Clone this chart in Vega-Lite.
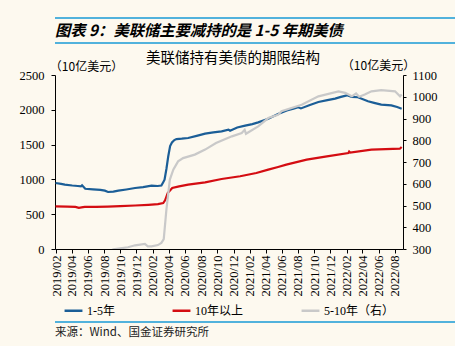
{
  "$schema": "https://vega.github.io/schema/vega-lite/v6.json",
  "background": "#fdf9ef",
  "padding": {"left": 19, "top": 17, "right": 5, "bottom": 5},
  "spacing": 4,
  "config": {
    "view": {"stroke": null},
    "axis": {"grid": false, "domainColor": "#000", "tickColor": "#000", "labelColor": "#000", "titleColor": "#000"}
  },
  "resolve": {"scale": {"color": "independent"}},
  "vconcat": [
    {
      "spacing": 6,
      "resolve": {"scale": {"color": "independent"}},
      "vconcat": [
        {
          "width": 426,
          "height": 25,
          "view": {"stroke": "#1a9ad6", "strokeWidth": 1.5, "strokeDash": [426, 25, 426, 25]},
          "title": {"text": "图表 9：美联储主要减持的是 1-5 年期美债", "orient": "top", "anchor": "start", "offset": -21, "font": "Noto Sans CJK SC", "fontSize": 15.3, "fontWeight": "bold", "fontStyle": "italic", "color": "#000"},
          "data": {"values": []},
          "mark": "point",
          "encoding": {}
        },
        {
          "width": 348,
          "height": 174,
          "title": {"text": "美联储持有美债的期限结构", "anchor": "middle", "offset": -7, "dx": 4, "font": "Noto Sans CJK SC", "fontSize": 14.5, "fontWeight": "normal", "color": "#000"},
          "data": {"values": [
            {"date": "2019-01-30", "s": "1-5年", "v": 948},
            {"date": "2019-02-20", "s": "1-5年", "v": 935},
            {"date": "2019-03-06", "s": "1-5年", "v": 925},
            {"date": "2019-04-03", "s": "1-5年", "v": 912},
            {"date": "2019-04-24", "s": "1-5年", "v": 905},
            {"date": "2019-05-06", "s": "1-5年", "v": 900},
            {"date": "2019-05-10", "s": "1-5年", "v": 915},
            {"date": "2019-05-16", "s": "1-5年", "v": 890},
            {"date": "2019-05-22", "s": "1-5年", "v": 865},
            {"date": "2019-06-20", "s": "1-5年", "v": 858},
            {"date": "2019-07-18", "s": "1-5年", "v": 850},
            {"date": "2019-08-04", "s": "1-5年", "v": 838},
            {"date": "2019-08-16", "s": "1-5年", "v": 819},
            {"date": "2019-09-05", "s": "1-5年", "v": 825},
            {"date": "2019-09-24", "s": "1-5年", "v": 838},
            {"date": "2019-10-24", "s": "1-5年", "v": 855},
            {"date": "2019-11-26", "s": "1-5年", "v": 876},
            {"date": "2019-12-26", "s": "1-5年", "v": 890},
            {"date": "2020-01-27", "s": "1-5年", "v": 910},
            {"date": "2020-02-19", "s": "1-5年", "v": 905},
            {"date": "2020-03-04", "s": "1-5年", "v": 912},
            {"date": "2020-03-11", "s": "1-5年", "v": 960},
            {"date": "2020-03-16", "s": "1-5年", "v": 996},
            {"date": "2020-03-23", "s": "1-5年", "v": 1150},
            {"date": "2020-03-30", "s": "1-5年", "v": 1332},
            {"date": "2020-04-06", "s": "1-5年", "v": 1480},
            {"date": "2020-04-13", "s": "1-5年", "v": 1530},
            {"date": "2020-04-22", "s": "1-5年", "v": 1565},
            {"date": "2020-04-30", "s": "1-5年", "v": 1580},
            {"date": "2020-05-20", "s": "1-5年", "v": 1585},
            {"date": "2020-06-13", "s": "1-5年", "v": 1595},
            {"date": "2020-07-15", "s": "1-5年", "v": 1625},
            {"date": "2020-08-16", "s": "1-5年", "v": 1657},
            {"date": "2020-09-16", "s": "1-5年", "v": 1675},
            {"date": "2020-10-17", "s": "1-5年", "v": 1691},
            {"date": "2020-11-12", "s": "1-5年", "v": 1715},
            {"date": "2020-11-18", "s": "1-5年", "v": 1700},
            {"date": "2020-12-15", "s": "1-5年", "v": 1745},
            {"date": "2021-01-14", "s": "1-5年", "v": 1772},
            {"date": "2021-02-10", "s": "1-5年", "v": 1795},
            {"date": "2021-03-04", "s": "1-5年", "v": 1820},
            {"date": "2021-04-11", "s": "1-5年", "v": 1870},
            {"date": "2021-05-18", "s": "1-5年", "v": 1940},
            {"date": "2021-06-20", "s": "1-5年", "v": 1990},
            {"date": "2021-07-15", "s": "1-5年", "v": 2015},
            {"date": "2021-08-02", "s": "1-5年", "v": 2036},
            {"date": "2021-08-12", "s": "1-5年", "v": 2020},
            {"date": "2021-09-15", "s": "1-5年", "v": 2070},
            {"date": "2021-10-17", "s": "1-5年", "v": 2112},
            {"date": "2021-11-20", "s": "1-5年", "v": 2140},
            {"date": "2021-12-19", "s": "1-5年", "v": 2160},
            {"date": "2022-01-10", "s": "1-5年", "v": 2185},
            {"date": "2022-02-01", "s": "1-5年", "v": 2208},
            {"date": "2022-02-20", "s": "1-5年", "v": 2185},
            {"date": "2022-03-15", "s": "1-5年", "v": 2180},
            {"date": "2022-04-22", "s": "1-5年", "v": 2122},
            {"date": "2022-05-15", "s": "1-5年", "v": 2100},
            {"date": "2022-06-11", "s": "1-5年", "v": 2074},
            {"date": "2022-07-19", "s": "1-5年", "v": 2064},
            {"date": "2022-08-10", "s": "1-5年", "v": 2040},
            {"date": "2022-08-27", "s": "1-5年", "v": 2016},
            {"date": "2019-01-30", "s": "10年以上", "v": 613},
            {"date": "2019-03-15", "s": "10年以上", "v": 610},
            {"date": "2019-04-15", "s": "10年以上", "v": 606},
            {"date": "2019-04-28", "s": "10年以上", "v": 592},
            {"date": "2019-05-08", "s": "10年以上", "v": 598},
            {"date": "2019-05-20", "s": "10年以上", "v": 604},
            {"date": "2019-07-01", "s": "10年以上", "v": 605},
            {"date": "2019-08-15", "s": "10年以上", "v": 608},
            {"date": "2019-10-01", "s": "10年以上", "v": 615},
            {"date": "2019-11-26", "s": "10年以上", "v": 625},
            {"date": "2020-01-15", "s": "10年以上", "v": 635},
            {"date": "2020-02-20", "s": "10年以上", "v": 645},
            {"date": "2020-03-11", "s": "10年以上", "v": 660},
            {"date": "2020-03-18", "s": "10年以上", "v": 700},
            {"date": "2020-03-28", "s": "10年以上", "v": 805},
            {"date": "2020-04-14", "s": "10年以上", "v": 876},
            {"date": "2020-05-10", "s": "10年以上", "v": 900},
            {"date": "2020-06-13", "s": "10年以上", "v": 924},
            {"date": "2020-08-16", "s": "10年以上", "v": 958},
            {"date": "2020-10-17", "s": "10年以上", "v": 1006},
            {"date": "2020-12-26", "s": "10年以上", "v": 1045},
            {"date": "2021-02-25", "s": "10年以上", "v": 1092},
            {"date": "2021-04-11", "s": "10年以上", "v": 1140},
            {"date": "2021-05-18", "s": "10年以上", "v": 1178},
            {"date": "2021-06-18", "s": "10年以上", "v": 1212},
            {"date": "2021-09-03", "s": "10年以上", "v": 1283},
            {"date": "2021-11-18", "s": "10年以上", "v": 1332},
            {"date": "2022-02-07", "s": "10年以上", "v": 1379},
            {"date": "2022-02-10", "s": "10年以上", "v": 1400},
            {"date": "2022-02-14", "s": "10年以上", "v": 1385},
            {"date": "2022-05-05", "s": "10年以上", "v": 1427},
            {"date": "2022-08-20", "s": "10年以上", "v": 1441},
            {"date": "2022-08-27", "s": "10年以上", "v": 1466},
            {"date": "2019-08-20", "s": "5-10年（右）", "v": 290},
            {"date": "2019-09-05", "s": "5-10年（右）", "v": 298},
            {"date": "2019-10-01", "s": "5-10年（右）", "v": 303},
            {"date": "2019-10-30", "s": "5-10年（右）", "v": 308},
            {"date": "2019-11-26", "s": "5-10年（右）", "v": 317},
            {"date": "2020-01-02", "s": "5-10年（右）", "v": 323},
            {"date": "2020-01-13", "s": "5-10年（右）", "v": 312},
            {"date": "2020-01-27", "s": "5-10年（右）", "v": 312},
            {"date": "2020-02-20", "s": "5-10年（右）", "v": 318},
            {"date": "2020-03-04", "s": "5-10年（右）", "v": 328},
            {"date": "2020-03-13", "s": "5-10年（右）", "v": 345},
            {"date": "2020-03-23", "s": "5-10年（右）", "v": 481},
            {"date": "2020-04-05", "s": "5-10年（右）", "v": 619},
            {"date": "2020-04-18", "s": "5-10年（右）", "v": 665},
            {"date": "2020-05-06", "s": "5-10年（右）", "v": 703},
            {"date": "2020-05-25", "s": "5-10年（右）", "v": 718},
            {"date": "2020-07-08", "s": "5-10年（右）", "v": 734},
            {"date": "2020-08-16", "s": "5-10年（右）", "v": 757},
            {"date": "2020-09-26", "s": "5-10年（右）", "v": 787},
            {"date": "2020-11-25", "s": "5-10年（右）", "v": 818},
            {"date": "2021-01-01", "s": "5-10年（右）", "v": 833},
            {"date": "2021-01-12", "s": "5-10年（右）", "v": 848},
            {"date": "2021-01-17", "s": "5-10年（右）", "v": 830},
            {"date": "2021-03-04", "s": "5-10年（右）", "v": 864},
            {"date": "2021-04-11", "s": "5-10年（右）", "v": 902},
            {"date": "2021-05-18", "s": "5-10年（右）", "v": 917},
            {"date": "2021-05-31", "s": "5-10年（右）", "v": 933},
            {"date": "2021-08-15", "s": "5-10年（右）", "v": 963},
            {"date": "2021-10-17", "s": "5-10年（右）", "v": 1002},
            {"date": "2021-11-24", "s": "5-10年（右）", "v": 1013},
            {"date": "2022-01-01", "s": "5-10年（右）", "v": 1025},
            {"date": "2022-01-26", "s": "5-10年（右）", "v": 1018},
            {"date": "2022-02-20", "s": "5-10年（右）", "v": 1002},
            {"date": "2022-03-08", "s": "5-10年（右）", "v": 1015},
            {"date": "2022-03-20", "s": "5-10年（右）", "v": 1000},
            {"date": "2022-04-10", "s": "5-10年（右）", "v": 1010},
            {"date": "2022-05-05", "s": "5-10年（右）", "v": 1025},
            {"date": "2022-06-11", "s": "5-10年（右）", "v": 1030},
            {"date": "2022-08-02", "s": "5-10年（右）", "v": 1025},
            {"date": "2022-08-21", "s": "5-10年（右）", "v": 1002},
            {"date": "2022-08-27", "s": "5-10年（右）", "v": 1010}
          ]},
          "encoding": {
            "x": {
              "field": "date", "type": "temporal",
              "scale": {"type": "utc", "domain": [{"year": 2019, "month": 1, "date": 28, "utc": true}, {"year": 2022, "month": 9, "date": 1, "utc": true}]},
              "axis": {
                "title": null,
                "format": "%Y/%m",
                "labelAngle": 270,
                "labelFont": "Liberation Serif, DejaVu Serif, serif",
                "labelFontSize": 12.5,
                "labelPadding": 2,
                "tickSize": 4,
                "labelOverlap": false,
                "labelFlush": false,
                "values": [
                  {"year": 2019, "month": 2, "date": 1, "utc": true},
                  {"year": 2019, "month": 4, "date": 1, "utc": true},
                  {"year": 2019, "month": 6, "date": 1, "utc": true},
                  {"year": 2019, "month": 8, "date": 1, "utc": true},
                  {"year": 2019, "month": 10, "date": 1, "utc": true},
                  {"year": 2019, "month": 12, "date": 1, "utc": true},
                  {"year": 2020, "month": 2, "date": 1, "utc": true},
                  {"year": 2020, "month": 4, "date": 1, "utc": true},
                  {"year": 2020, "month": 6, "date": 1, "utc": true},
                  {"year": 2020, "month": 8, "date": 1, "utc": true},
                  {"year": 2020, "month": 10, "date": 1, "utc": true},
                  {"year": 2020, "month": 12, "date": 1, "utc": true},
                  {"year": 2021, "month": 2, "date": 1, "utc": true},
                  {"year": 2021, "month": 4, "date": 1, "utc": true},
                  {"year": 2021, "month": 6, "date": 1, "utc": true},
                  {"year": 2021, "month": 8, "date": 1, "utc": true},
                  {"year": 2021, "month": 10, "date": 1, "utc": true},
                  {"year": 2021, "month": 12, "date": 1, "utc": true},
                  {"year": 2022, "month": 2, "date": 1, "utc": true},
                  {"year": 2022, "month": 4, "date": 1, "utc": true},
                  {"year": 2022, "month": 6, "date": 1, "utc": true},
                  {"year": 2022, "month": 8, "date": 1, "utc": true}
                ]
              }
            },
            "color": {
              "field": "s", "type": "nominal",
              "scale": {"domain": ["1-5年", "10年以上", "5-10年（右）"], "range": ["#1b5e97", "#d40d12", "#c9c9c9"]},
              "legend": {
                "title": null,
                "orient": "none",
                "direction": "horizontal",
                "legendX": 8,
                "legendY": 225,
                "symbolType": "stroke",
                "symbolSize": 320,
                "symbolStrokeWidth": 2.5,
                "labelFont": "Liberation Serif, Noto Sans CJK SC",
                "labelFontSize": 12,
                "labelColor": "#000",
                "labelOffset": 3,
                "columnPadding": 52
              }
            }
          },
          "layer": [
            {
              "transform": [{"filter": "datum.s != '5-10年（右）'"}],
              "mark": {"type": "line", "strokeWidth": 2.2, "clip": true},
              "encoding": {
                "y": {
                  "field": "v", "type": "quantitative",
                  "scale": {"domain": [0, 2500], "nice": false, "zero": false},
                  "axis": {
                    "orient": "left",
                    "values": [0, 500, 1000, 1500, 2000, 2500],
                    "format": "d",
                    "title": "（10亿美元）",
                    "titleAngle": 0,
                    "titleX": 31,
                    "titleY": -9,
                    "titleAlign": "center",
                    "titleBaseline": "middle",
                    "titleFont": "Noto Sans CJK SC",
                    "titleFontSize": 12,
                    "titleFontWeight": "normal",
                    "labelFont": "Liberation Serif, DejaVu Serif, serif",
                    "labelFontSize": 12.5,
                    "labelPadding": 7,
                    "tickSize": 4
                  }
                }
              }
            },
            {
              "transform": [{"filter": "datum.s == '5-10年（右）'"}],
              "mark": {"type": "line", "strokeWidth": 2.2, "clip": true},
              "encoding": {
                "y": {
                  "field": "v", "type": "quantitative",
                  "scale": {"domain": [300, 1100], "nice": false, "zero": false},
                  "axis": {
                    "orient": "right",
                    "values": [300, 400, 500, 600, 700, 800, 900, 1000, 1100],
                    "format": "d",
                    "title": "（10亿美元）",
                    "titleAngle": 0,
                    "titleX": -25,
                    "titleY": -10,
                    "titleAlign": "center",
                    "titleBaseline": "middle",
                    "titleFont": "Noto Sans CJK SC",
                    "titleFontSize": 12,
                    "titleFontWeight": "normal",
                    "labelFont": "Liberation Serif, DejaVu Serif, serif",
                    "labelFontSize": 12.5,
                    "labelPadding": 6,
                    "tickSize": 3
                  }
                }
              }
            }
          ],
          "resolve": {"scale": {"y": "independent"}}
        }
      ]
    },
    {
      "width": 426,
      "height": 18,
      "view": {"stroke": "#1a9ad6", "strokeWidth": 1.5, "strokeDash": [426, 2000]},
      "title": {"text": "来源：Wind、国金证券研究所", "orient": "bottom", "anchor": "start", "offset": -13, "font": "Noto Sans CJK SC", "fontSize": 11.5, "fontWeight": "normal", "color": "#222"},
      "data": {"values": []},
      "mark": "point",
      "encoding": {}
    }
  ]
}
